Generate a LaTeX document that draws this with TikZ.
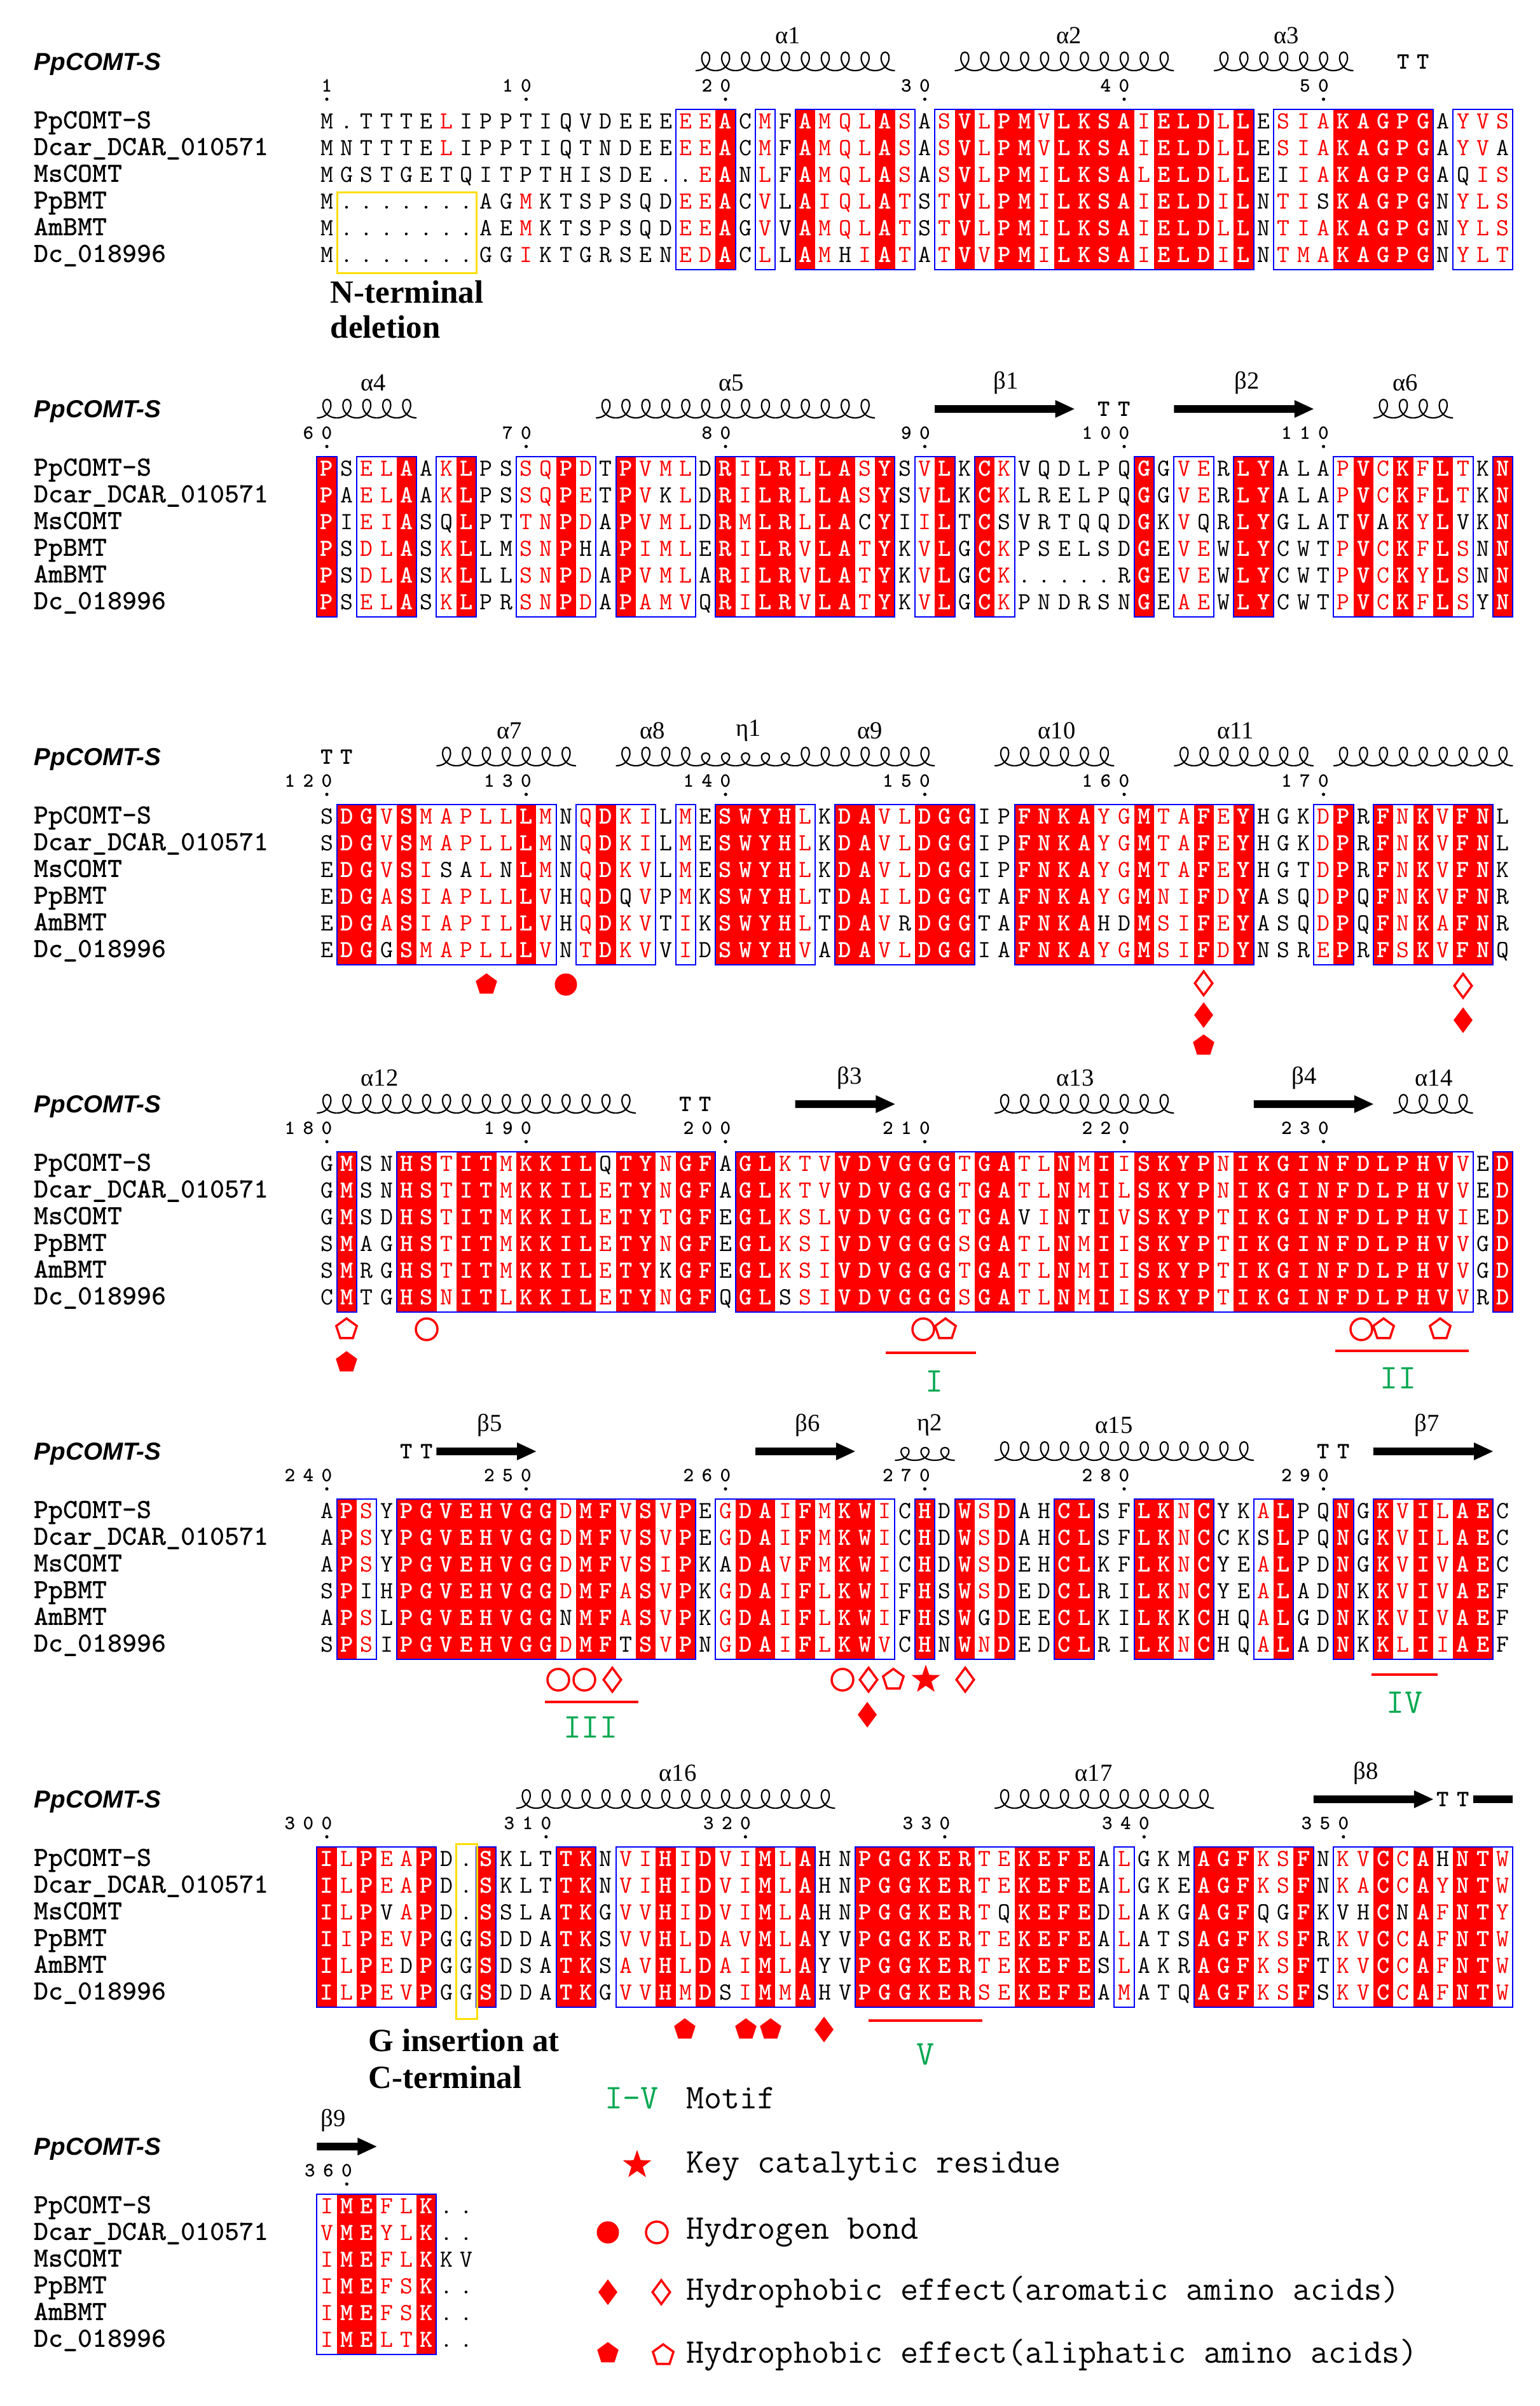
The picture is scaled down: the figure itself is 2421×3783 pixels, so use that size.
\documentclass[tikz,border=0pt]{standalone}
\usepackage{fontspec}
\setmainfont{Liberation Serif}
\newfontfamily\hdrfont{Liberation Sans}
\usetikzlibrary{shapes.geometric}

\definecolor{espred}{RGB}{255,0,0}
\definecolor{espblue}{RGB}{0,0,255}
\definecolor{espyellow}{RGB}{255,222,0}
\definecolor{motifgreen}{RGB}{0,168,80}

\tikzset{
  resb/.style={font=\ttfamily\fontsize{11}{11}\selectfont, anchor=base, inner sep=0pt},
  resr/.style={resb, text=espred},
  resw/.style={resb, text=white, font=\ttfamily\bfseries\fontsize{11}{11}\selectfont},
  nmtxt/.style={font=\ttfamily\bfseries\fontsize{12.5}{12.5}\selectfont, anchor=base west, inner sep=0pt},
  hdrtxt/.style={font=\hdrfont\bfseries\itshape\fontsize{11}{11}\selectfont, anchor=west, inner sep=0pt},
  numtxt/.style={font=\ttfamily\bfseries\fontsize{9}{9}\selectfont, inner sep=0pt},
  ttxt/.style={font=\ttfamily\bfseries\fontsize{10.5}{10.5}\selectfont, inner sep=0pt},
  sslab/.style={font=\fontsize{11}{11}\selectfont, inner sep=0pt},
  notetxt/.style={font=\bfseries\fontsize{14.5}{16}\selectfont, anchor=west, inner sep=0pt},
  legtxt/.style={font=\ttfamily\fontsize{15.5}{15.5}\selectfont, anchor=west, inner sep=0pt},
  mtxt/.style={font=\ttfamily\fontsize{15.5}{15.5}\selectfont, text=motifgreen, inner sep=0pt},
  bluebox/.style={draw=espblue, line width=0.2mm},
  yellowbox/.style={draw=espyellow, line width=0.3mm},
  helixline/.style={line width=0.22mm},
  motifline/.style={draw=espred, line width=0.45mm},
  mkcirc/.style={circle, minimum size=3.4mm, inner sep=0pt},
  mkdiam/.style={diamond, minimum width=2.9mm, minimum height=3.9mm, inner sep=0pt},
  mkpent/.style={regular polygon, regular polygon sides=5, minimum size=3.4mm, inner sep=0pt},
  mkstar/.style={star, star points=5, star point ratio=2.5, minimum size=4.4mm, inner sep=0pt},
  mkfill/.style={fill=espred, draw=espred, line width=0.1mm},
  mkopen/.style={draw=espred, fill=white, line width=0.35mm}
}

\newcount\colc
\newcount\runst
\newcount\ndig
\newcount\dgk
\newif\ifinrun

\def\wgob#1{}
\def\wkeep#1{#1}
\def\typewalk#1{\ifx#1\relax\expandafter\wgob\else\expandafter\wkeep\fi{\typeone#1\typewalk}}
\def\reswalk#1{\ifx#1\relax\expandafter\wgob\else\expandafter\wkeep\fi{\resone#1\reswalk}}
\def\cntwalk#1{\ifx#1\relax\expandafter\wgob\else\expandafter\wkeep\fi{\global\advance\ndig by 1 \cntwalk}}
\def\numwalk#1{\ifx#1\relax\expandafter\wgob\else\expandafter\wkeep\fi{\numone#1\numwalk}}

% column types: R = identical (red), S = similar (boxed), - = none
\def\closebox{%
  \draw[bluebox] ({514+(\the\runst-1)*31.35-15.675},\boxtop) rectangle ({514+(\the\colc-2)*31.35+15.675},\boxbot);%
  \global\inrunfalse}
\def\redcol{%
  \fill[espred] ({514+(\the\colc-1)*31.35-15.675},\boxtop) rectangle ({514+(\the\colc-1)*31.35+15.775},\boxbot);%
  \expandafter\xdef\csname rc\blk-\the\colc\endcsname{}}
\def\typeone#1{%
  \if#1-%
    \ifinrun\closebox\fi
  \else
    \ifinrun\else\global\runst=\colc\global\inruntrue\fi
    \if#1R\redcol\fi
  \fi
  \global\advance\colc by 1\relax}

% lower case = red letter, upper case = black letter
\def\resone#1{%
  \ifcsname rc\blk-\the\colc\endcsname
    \node[resw] (s\blk-\rowno-\the\colc) at ({514+(\the\colc-1)*31.35},\rowy) {\uppercase{#1}};%
  \else
    \ifnum`#1>96
      \node[resr] (s\blk-\rowno-\the\colc) at ({514+(\the\colc-1)*31.35},\rowy) {\uppercase{#1}};%
    \else
      \node[resb] (s\blk-\rowno-\the\colc) at ({514+(\the\colc-1)*31.35},\rowy) {#1};%
    \fi
  \fi
  \global\advance\colc by 1\relax}

\newcommand{\seqname}[1]{\ifcase#1\or PpCOMT-S\or Dcar\_DCAR\_010571\or MsCOMT\or PpBMT\or AmBMT\or Dc\_018996\fi}

\newcommand{\rowdo}[3]{%
  \pgfmathsetmacro\rowy{#1+9}\def\rowno{#2}%
  \node[nmtxt] (nm\blk-#2) at (53,\rowy) {\seqname{#2}};%
  \global\colc=1 \reswalk#3\relax}

\newcommand{\seqblock}[9]{%
  \def\blk{#1}%
  \pgfmathsetmacro\boxtop{#2-21}\pgfmathsetmacro\boxbot{#2+231}%
  \node[hdrtxt] (hd#1) at (53,{#2-92}) {PpCOMT-S};%
  \global\colc=1 \global\inrunfalse
  \typewalk#3\relax
  \ifinrun\closebox\fi
  \rowdo{#2}{1}{#4}\rowdo{#2+42}{2}{#5}\rowdo{#2+84}{3}{#6}%
  \rowdo{#2+126}{4}{#7}\rowdo{#2+168}{5}{#8}\rowdo{#2+210}{6}{#9}}

\def\numone#1{\global\advance\dgk by 1 \node[numtxt] (dg\the\dgk) at (\numx,\numy) {#1};\pgfmathsetmacro\numx{\numx+29}}
\newcommand{\resno}[3]{%
  \global\ndig=0 \expandafter\cntwalk#3\relax
  \pgfmathsetmacro\numx{514+(#2-1)*31.35-29*(\the\ndig-1)}%
  \pgfmathsetmacro\numy{#1-58}%
  \expandafter\numwalk#3\relax
  \fill ({514+(#2-1)*31.35},{#1-37}) circle [radius=2.6];}

% one loop per column, #1 = height of the loops
\newcommand{\helix}[4][29]{%
  \foreach \k in {#3,...,#4}{
    \pgfmathsetmacro\hx{514+(\k-1)*31.35-15.675}
    \draw[helixline] (\hx,{#2-82}) .. controls ({\hx+24},{#2-82}) and ({\hx+27},{#2-82-#1}) .. ({\hx+16},{#2-82-#1})
      .. controls ({\hx+5},{#2-82-#1}) and ({\hx+7},{#2-82}) .. ({\hx+31.35},{#2-82});
  }}
\newcommand{\strand}[3]{%
  \pgfmathsetmacro\sxa{514+(#2-1)*31.35-15.675}\pgfmathsetmacro\sxb{514+(#3-1)*31.35+15.675}%
  \fill (\sxa,{#1-102}) -- ({\sxb-30},{#1-102}) -- ({\sxb-30},{#1-110}) -- (\sxb,{#1-96})
    -- ({\sxb-30},{#1-82}) -- ({\sxb-30},{#1-90}) -- (\sxa,{#1-90}) -- cycle;}
\newcommand{\turn}[2]{%
  \node[ttxt] (ta#1-#2) at ({514+(#2-1)*31.35},{#1-96}) {T};
  \node[ttxt] (tb#1-#2) at ({514+#2*31.35},{#1-96}) {T};}
\newcommand{\sslab}[3]{\node[sslab] (lb#1-#2) at (#2,{#1-137}) {#3};}

\begin{document}
\begin{tikzpicture}[x=0.1mm, y=-0.1mm]
\fill[white] (0,0) rectangle (2421,3783);
\useasboundingbox (0,0) rectangle (2421,3783);

% block 1
\seqblock{1}{193}{------------------SSR-S-RSSSRS-SRSRRSRRRRSRRRSR-SSSRRRRR-SSS}
  {M.TTTElIPPTIQVDEEEeeACmFAmqlAsAsVlPMvLKSAiELDlLEsiaKAGPGAyvs}
  {MNTTTElIPPTIQTNDEEeeACmFAmqlAsAsVlPMvLKSAiELDlLEsiaKAGPGAyvA}
  {MGSTGETQITPTHISDE..eANlFAmqlAsAsVlPMiLKSAlELDlLEIiaKAGPGAQis}
  {M.......AGmKTSPSQDeeACvLAiqlAtStVlPMiLKSAiELDiLNtiSKAGPGNyls}
  {M.......AEmKTSPSQDeeAGvVAmqlAtStVlPMiLKSAiELDlLNtiaKAGPGNyls}
  {M.......GGiKTGRSENedAClLAmHiAtAtVvPMiLKSAiELDiLNtmaKAGPGNylt}
\foreach \c/\n in {1/1,11/10,21/20,31/30,41/40,51/50}{\resno{193}{\c}{\n}}
\helix{193}{20}{29}\helix{193}{33}{43}\helix{193}{46}{52}\turn{193}{55}
\sslab{193}{1239}{α1}\sslab{193}{1681}{α2}\sslab{193}{2023}{α3}
\draw[yellowbox] (530,302) rectangle (749,429);
\node[notetxt] (ntA) at (519,459) {N-terminal};
\node[notetxt] (ntB) at (519,514) {deletion};

% block 2
\seqblock{2}{739}{R-SSR-SR--SSRS-RSSS-RSRRSRRSR-SR-RS------R-SS-RR---SRSRSRS-R}
  {PSelAAkLPSsqPdTPvmlDRiLRlLAsYSvLKCkVQDLPQGGveRLYALApVcKfLtKN}
  {PAelAAkLPSsqPeTPvKlDRiLRlLAsYSvLKCkLRELPQGGveRLYALApVcKfLtKN}
  {PIeiASQLPTtnPdAPvmlDRmLRlLACYIiLTCSVRTQQDGKvQRLYGLATVAKyLVKN}
  {PSdlASkLLMsnPHAPimlERiLRvLAtYKvLGCkPSELSDGEveWLYCWTpVcKfLsNN}
  {PSdlASkLLLsnPdAPvmlARiLRvLAtYKvLGCk.....RGEveWLYCWTpVcKyLsNN}
  {PSelASkLPRsnPdAPamvQRiLRvLAtYKvLGCkPNDRSNGEaeWLYCWTpVcKfLsYN}
\foreach \c/\n in {1/60,11/70,21/80,31/90,41/100,51/110}{\resno{739}{\c}{\n}}
\helix{739}{1}{5}\helix{739}{15}{28}\strand{739}{32}{38}\turn{739}{40}
\strand{739}{44}{50}\helix{739}{54}{57}
\sslab{739}{587}{α4}\sslab{739}{1150}{α5}\sslab{739}{1582}{β1}\sslab{739}{1961}{β2}\sslab{739}{2210}{α6}

% block 3
\seqblock{3}{1286}{-RRSRSSSSSRS-SRSS-S-RRRRS-RRSSRRR--RRRRSSRSSRSR---SR-RSRSRR-}
  {SDGvSmapllLmNqDkiLmESWYHlKDAvlDGGIPFNKAygMtaFeYHGKdPRFnKvFNL}
  {SDGvSmapllLmNqDkiLmESWYHlKDAvlDGGIPFNKAygMtaFeYHGKdPRFnKvFNL}
  {EDGvSiSAlNLmNqDkvLmESWYHlKDAvlDGGIPFNKAygMtaFeYHGTdPRFnKvFNK}
  {EDGaSiapllLvHqDQvPmKSWYHlTDAilDGGTAFNKAygMniFdYASQdPQFnKvFNR}
  {EDGaSiapilLvHqDkvTiKSWYHlTDAvRDGGTAFNKAHDMsiFeYASQdPQFnKaFNR}
  {EDGGSmapllLvNtDkvViDSWYHvADAvlDGGIAFNKAygMsiFdYNSRePRFsKvFNQ}
\foreach \c/\n in {1/120,11/130,21/140,31/150,41/160,51/170}{\resno{1286}{\c}{\n}}
\turn{1286}{1}\helix{1286}{7}{13}\helix{1286}{16}{19}\helix[20]{1286}{20}{24}\helix{1286}{25}{31}
\helix{1286}{35}{40}\helix{1286}{44}{50}\helix{1286}{52}{60}
\sslab{1286}{801}{α7}\sslab{1286}{1026}{α8}\sslab{1286}{1177}{η1}\sslab{1286}{1368}{α9}
\sslab{1286}{1662}{α10}\sslab{1286}{1943}{α11}
\node[mkpent, mkfill] (m3a) at (765,1548) {};
\node[mkcirc, mkfill] (m3b) at (890,1548) {};
\node[mkdiam, mkopen] (m3c) at (1893,1546) {};
\node[mkdiam, mkfill] (m3d) at (1893,1596) {};
\node[mkpent, mkfill] (m3e) at (1893,1644) {};
\node[mkdiam, mkopen] (m3f) at (2301,1550) {};
\node[mkdiam, mkfill] (m3g) at (2301,1604) {};

% block 4
\seqblock{4}{1832}{-R--RRSRRSRRRRSRRSRR-RRSSSRRRRRRSRRSSRSRSRRRRSRRRRRRRRRRRS-R}
  {GMSNHStITmKKILQTYnGFAGLktvVDVGGGtGAtlNmIiSKYPnIKGINFDLPHVvED}
  {GMSNHStITmKKILeTYnGFAGLktvVDVGGGtGAtlNmIlSKYPnIKGINFDLPHVvED}
  {GMSDHStITmKKILeTYtGFEGLkslVDVGGGtGAViNTIvSKYPtIKGINFDLPHViED}
  {SMAGHStITmKKILeTYnGFEGLksiVDVGGGsGAtlNmIiSKYPtIKGINFDLPHVvGD}
  {SMRGHStITmKKILeTYKGFEGLksiVDVGGGtGAtlNmIiSKYPtIKGINFDLPHVvGD}
  {CMTGHSnITlKKILeTYnGFQGLSsiVDVGGGsGAtlNmIiSKYPtIKGINFDLPHVvRD}
\foreach \c/\n in {1/180,11/190,21/200,31/210,41/220,51/230}{\resno{1832}{\c}{\n}}
\helix{1832}{1}{16}\turn{1832}{19}\strand{1832}{25}{29}\helix{1832}{35}{43}
\strand{1832}{48}{53}\helix{1832}{55}{58}
\sslab{1832}{597}{α12}\sslab{1832}{1336}{β3}\sslab{1832}{1691}{α13}\sslab{1832}{2051}{β4}\sslab{1832}{2255}{α14}
\node[mkpent, mkopen] (m4a) at (545,2090) {};
\node[mkpent, mkfill] (m4b) at (545,2142) {};
\node[mkcirc, mkopen] (m4c) at (671,2090) {};
\node[mkcirc, mkopen] (m4d) at (1452,2090) {};
\node[mkpent, mkopen] (m4e) at (1487,2090) {};
\node[mkcirc, mkopen] (m4f) at (2141,2090) {};
\node[mkpent, mkopen] (m4g) at (2176,2090) {};
\node[mkpent, mkopen] (m4h) at (2265,2090) {};
\draw[motifline] (1393,2127) -- (1535,2127);
\node[mtxt] (mfI) at (1470,2172) {I};
\draw[motifline] (2100,2124) -- (2310,2124);
\node[mtxt] (mfII) at (2199,2167) {II};

% block 5
\seqblock{5}{2378}{-RS-RRRRRRRRSRRSRSR-SRRSRSRRS-R-RSR--RR--RRSR--SR--R-RSRSRR-}
  {APsYPGVEHVGGdMFvSvPEgDAiFmKWiCHDWsDAHCLSFLKnCYKaLPQNGKvIlAEC}
  {APsYPGVEHVGGdMFvSvPEgDAiFmKWiCHDWsDAHCLSFLKnCCKSLPQNGKvIlAEC}
  {APsYPGVEHVGGdMFvSiPKADAvFmKWiCHDWsDEHCLKFLKnCYEaLPDNGKvIvAEC}
  {SPIHPGVEHVGGdMFaSvPKgDAiFlKWiFHSWsDEDCLRILKnCYEaLADNKKvIvAEF}
  {APsLPGVEHVGGNMFaSvPKgDAiFlKWiFHSWGDEECLKILKKCHQaLGDNKKvIvAEF}
  {SPsIPGVEHVGGdMFTSvPNgDAiFlKWvCHNWnDEDCLRILKnCHQaLADNKKlIiAEF}
\foreach \c/\n in {1/240,11/250,21/260,31/270,41/280,51/290}{\resno{2378}{\c}{\n}}
\turn{2378}{5}\strand{2378}{7}{11}\strand{2378}{23}{27}\helix[20]{2378}{30}{32}
\helix{2378}{35}{47}\turn{2378}{51}\strand{2378}{54}{59}
\sslab{2378}{770}{β5}\sslab{2378}{1270}{β6}\sslab{2378}{1462}{η2}\sslab{2378}{1752}{α15}\sslab{2378}{2244}{β7}
\node[mkcirc, mkopen] (m5a) at (878,2641) {};
\node[mkcirc, mkopen] (m5b) at (919,2641) {};
\node[mkdiam, mkopen] (m5c) at (963,2641) {};
\draw[motifline] (857,2676) -- (1004,2676);
\node[mtxt] (mfIII) at (929,2716) {III};
\node[mkcirc, mkopen] (m5d) at (1325,2641) {};
\node[mkdiam, mkopen] (m5e) at (1366,2641) {};
\node[mkpent, mkopen] (m5f) at (1405,2641) {};
\node[mkstar, mkfill] (m5g) at (1456,2641) {};
\node[mkdiam, mkopen] (m5h) at (1518,2641) {};
\node[mkdiam, mkfill] (m5i) at (1364,2696) {};
\draw[motifline] (2157,2633) -- (2261,2633);
\node[mtxt] (mfIV) at (2209,2677) {IV};

% block 6
\seqblock{6}{2925}{RSRSSR--R---RR-SSRSRSSRSR--RRRRRRSSRRRR-S---RRRSSR-SSRSRSRRS}
  {IlPeaPD.SKLTTKNviHiDviMlAHNPGGKERteKEFEAlGKMAGFksFNkvCcAHNTw}
  {IlPeaPD.SKLTTKNviHiDviMlAHNPGGKERteKEFEAlGKEAGFksFNkaCcAyNTw}
  {IlPVaPD.SSLATKGvvHiDviMlAHNPGGKERtQKEFEDlAKGAGFQGFKVHCNAfNTy}
  {IiPevPGGSDDATKSvvHlDavMlAYVPGGKERteKEFEAlATSAGFksFRkvCcAfNTw}
  {IlPeDPGGSDSATKSavHlDaiMlAYVPGGKERteKEFESlAKRAGFksFTkvCcAfNTw}
  {IlPevPGGSDDATKGvvHmDSiMmAHVPGGKERseKEFEAmATQAGFksFSkvCcAfNTw}
\foreach \c/\n in {1/300,12/310,22/320,32/330,42/340,52/350}{\resno{2925}{\c}{\n}}
\helix{2925}{11}{26}\helix{2925}{35}{45}\strand{2925}{51}{56}\turn{2925}{57}
\fill ({514+58*31.35-15.675},2823) rectangle ({514+59*31.35+15.675},2835);
\sslab{2925}{1066}{α16}\sslab{2925}{1720}{α17}\sslab{2925}{2148}{β8}
\draw[yellowbox] (717,2899) rectangle (750,3174);
\node[mkpent, mkfill] (m6a) at (1077,3191) {};
\node[mkpent, mkfill] (m6b) at (1173,3191) {};
\node[mkpent, mkfill] (m6c) at (1212,3191) {};
\node[mkdiam, mkfill] (m6d) at (1296,3191) {};
\draw[motifline] (1366,3177) -- (1545,3177);
\node[mtxt] (mfV) at (1456,3230) {V};
\node[notetxt] (ciA) at (579,3208) {G insertion at};
\node[notetxt] (ciB) at (579,3266) {C-terminal};

% block 7
\seqblock{7}{3471}{SRRSSR--}
  {iMEflK..}{vMEylK..}{iMEflKKV}{iMEfsK..}{iMEfsK..}{iMEltK..}
\resno{3471}{2}{360}
\strand{3471}{1}{3}
\sslab{3471}{524}{β9}

% legend
\node[legtxt, text=motifgreen] (lgiv) at (951,3299) {I—V};
\node[legtxt] (lgmotif) at (1079,3299) {Motif};
\node[mkstar, mkfill] (lgstar) at (1002,3404) {};
\node[legtxt] (lgkey) at (1079,3406) {Key catalytic residue};
\node[mkcirc, mkfill] (lgcf) at (956,3510) {};
\node[mkcirc, mkopen] (lgco) at (1033,3510) {};
\node[legtxt] (lghb) at (1079,3510) {Hydrogen bond};
\node[mkdiam, mkfill] (lgdf) at (956,3604) {};
\node[mkdiam, mkopen] (lgdo) at (1040,3604) {};
\node[legtxt] (lgaro) at (1079,3604) {Hydrophobic effect(aromatic amino acids)};
\node[mkpent, mkfill] (lgpf) at (956,3700) {};
\node[mkpent, mkopen] (lgpo) at (1043,3703) {};
\node[legtxt] (lgali) at (1079,3703) {Hydrophobic effect(aliphatic amino acids)};
\end{tikzpicture}
\end{document}
